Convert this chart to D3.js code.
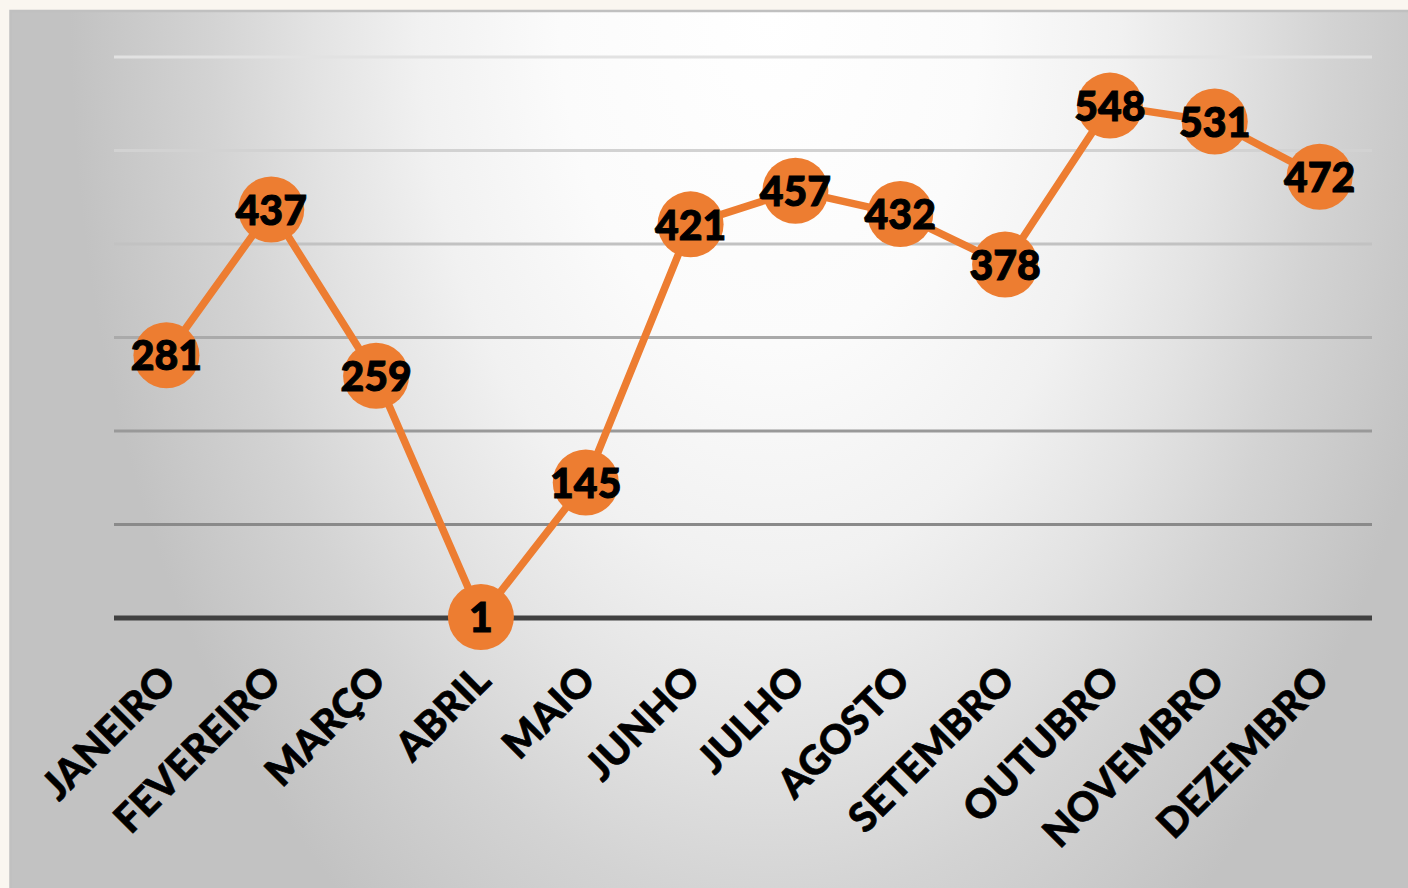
<!DOCTYPE html>
<html>
<head>
<meta charset="utf-8">
<script src="https://cdn.jsdelivr.net/npm/d3@7"></script>
<style>
  html, body { margin: 0; padding: 0; background: #faf6f0; }
  svg { display: block; }
</style>
</head>
<body>
<div id="chart"></div>
<script>
'use strict';

const months = ["JANEIRO", "FEVEREIRO", "MARÇO", "ABRIL", "MAIO", "JUNHO",
  "JULHO", "AGOSTO", "SETEMBRO", "OUTUBRO", "NOVEMBRO", "DEZEMBRO"];
const values = [281, 437, 259, 1, 145, 421, 457, 432, 378, 548, 531, 472];
const gridTicks = [0, 100, 200, 300, 400, 500, 600];
const gridColors = ["#404040", "#8a8a8a", "#999999", "#aaaaaa", "#c2c2c2", "#d2d2d2", "#e2e2e2"];

(function() {
  const W = 1408, H = 888;
  const plot = { left: 114, right: 1372, top: 57, bottom: 618 };

  const svg = d3.select('#chart')
    .append('svg')
    .attr('width', W)
    .attr('height', H);

  // panel background, radial gradient like the office preset
  const defs = svg.append('defs');
  const grad = defs.append('radialGradient')
    .attr('id', 'panelGrad')
    .attr('gradientUnits', 'userSpaceOnUse')
    .attr('cx', 770).attr('cy', 10).attr('r', 700)
    .attr('fx', 770).attr('fy', 10)
    .attr('gradientTransform', 'translate(770,10) scale(1,1.6) translate(-770,-10)');
  [[0, '#ffffff'], [0.3, '#fbfbfb'], [0.5, '#f1f1f1'], [0.65, '#e3e3e3'],
   [0.8, '#d3d3d3'], [1, '#c2c2c2']].forEach(function(s) {
    grad.append('stop').attr('offset', s[0]).attr('stop-color', s[1]);
  });

  svg.append('rect')
    .attr('x', 10).attr('y', 10)
    .attr('width', W - 10).attr('height', H - 10)
    .attr('fill', 'url(#panelGrad)');
  svg.append('path')
    .attr('d', 'M10.5,' + H + 'V11H' + W)
    .attr('fill', 'none')
    .attr('stroke', '#c0c0c0')
    .attr('stroke-width', 2.5);

  const xScale = d3.scalePoint()
    .domain(months)
    .range([plot.left, plot.right])
    .padding(0.5);

  const yScale = d3.scaleLinear()
    .domain([0, 600])
    .range([plot.bottom, plot.top]);

  // gridlines
  svg.append('g')
    .selectAll('line')
    .data(gridTicks)
    .enter()
    .append('line')
    .attr('x1', plot.left)
    .attr('x2', plot.right)
    .attr('y1', d => yScale(d))
    .attr('y2', d => yScale(d))
    .attr('stroke', (d, i) => gridColors[i])
    .attr('stroke-width', d => d === 0 ? 5 : 3);

  // month labels
  svg.append('g')
    .selectAll('text')
    .data(months)
    .enter()
    .append('text')
    .attr('transform', d => 'translate(' + (xScale(d) + 2) + ',' + 673 + ')rotate(-45)')
    .attr('text-anchor', 'end')
    .attr('dy', '0.35em')
    .style('font-family', 'Lato, "Open Sans", sans-serif')
    .style('font-weight', 900)
    .style('font-size', '40px')
    .style('fill', '#000')
    .style('stroke', '#000')
    .style('stroke-width', 0.7)
    .text(d => d);

  const line = d3.line()
    .x((d, i) => xScale(months[i]))
    .y(d => yScale(d));

  svg.append('path')
    .datum(values)
    .attr('d', line)
    .attr('fill', 'none')
    .attr('stroke', '#ed7d31')
    .attr('stroke-width', 7.5)
    .attr('stroke-linejoin', 'round');

  svg.append('g')
    .selectAll('circle')
    .data(values)
    .enter()
    .append('circle')
    .attr('cx', (d, i) => xScale(months[i]))
    .attr('cy', d => yScale(d))
    .attr('r', 33)
    .attr('fill', '#ed7d31');

  svg.append('g')
    .selectAll('text')
    .data(values)
    .enter()
    .append('text')
    .attr('x', (d, i) => xScale(months[i]))
    .attr('y', d => yScale(d))
    .attr('dy', '0.37em')
    .attr('text-anchor', 'middle')
    .style('font-family', 'Lato, "Open Sans", sans-serif')
    .style('font-weight', 900)
    .style('font-size', '41px')
    .style('fill', '#000')
    .style('stroke', '#000')
    .style('stroke-width', 1)
    .text(d => d);
})();
</script>
</body>
</html>
